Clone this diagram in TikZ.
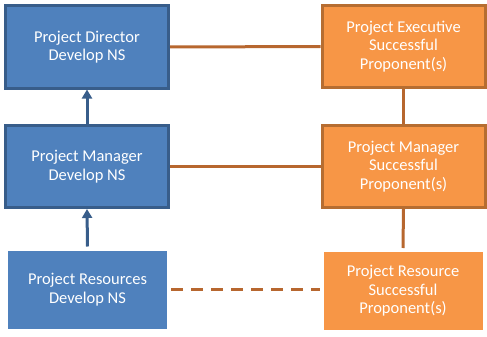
\documentclass[tikz,border=0pt]{standalone}
\usepackage{fontspec}
\setmainfont{Carlito}
\usetikzlibrary{shadows,arrows.meta}
\definecolor{bfill}{HTML}{4F81BD}
\definecolor{bline}{HTML}{385D8A}
\definecolor{ofill}{HTML}{F79646}
\definecolor{oline}{HTML}{B66D31}
\definecolor{conn}{HTML}{B7672F}
\tikzset{
  box/.style={minimum width=163pt, minimum height=82pt, inner sep=0pt, align=center,
    text=white, font=\fontsize{16.5}{18.5}\selectfont, line width=3pt},
  bluebox/.style={box, fill=bfill, draw=bline},
  orangebox/.style={box, fill=ofill, draw=oline},
  framed/.style={draw=white, line width=4pt, drop shadow={shadow xshift=1.5pt, shadow yshift=-1.5pt, opacity=0.4, fill=black!60}},
  oconn/.style={draw=conn, line width=3pt},
  bconn/.style={draw=bline, line width=3pt, -{Triangle[length=9pt,width=10pt]}},
}
\begin{document}
\begin{tikzpicture}[x=1pt,y=-1pt]
\useasboundingbox (0,0) rectangle (487,337);
\node[bluebox] (bd) at (87,47) {Project Director\\Develop NS};
\node[bluebox] (bm) at (87,166.5) {Project Manager\\Develop NS};
\node[box, fill=bfill, framed] (br) at (87.5,289.5) {Project Resources\\Develop NS};
\node[orangebox] (oe) at (403.5,46.5) {Project Executive\\Successful\\Proponent(s)};
\node[orangebox] (om) at (403.5,166.5) {Project Manager\\Successful\\Proponent(s)};
\node[box, fill=ofill, framed] (or) at (403,291) {Project Resource\\Successful\\Proponent(s)};
\draw[oconn] (bd.east) -- (oe.west);
\draw[oconn] (bm.east) -- (om.west);
\draw[oconn] (oe.south) -- (om.north);
\draw[oconn] (om.south) -- (or.north);
\draw[oconn, dash pattern=on 12pt off 8pt] (br.east) -- (br.east -| or.west);
\draw[bconn] (bm.north) -- (bd.south);
\draw[bconn] (br.north) -- (bm.south);
\end{tikzpicture}
\end{document}
